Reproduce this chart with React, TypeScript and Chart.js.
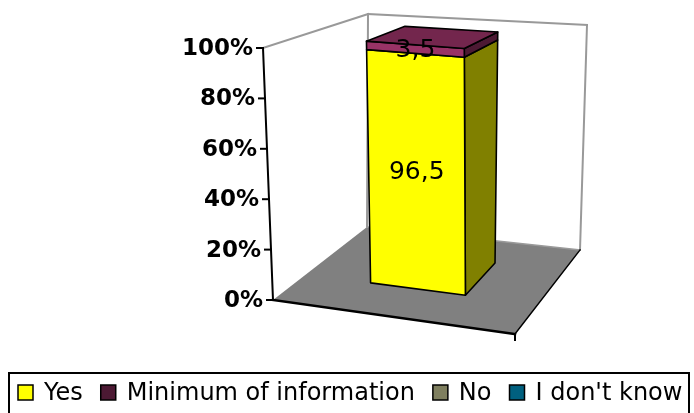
import React, { useEffect, useRef } from "react";
import { Chart, registerables } from "chart.js";

Chart.register(...registerables);

// ---- data ----
const categories = [""];
const seriesNames = ["Yes", "Minimum of information", "No", "I don't know"];
const yesValues = [96.5];
const minimumValues = [3.5];
const noValues = [0];
const dontKnowValues = [0];
const yTickValues = [0, 20, 40, 60, 80, 100];

// ---- colours ----
const legendColors = ["#FFFF00", "#4C1933", "#7F7F5F", "#00607F"];
const frontColors = ["#FFFF00", "#993366", "#A0A080", "#0080A0"];
const sideColors = ["#808000", "#4C1933", "#606048", "#004860"];
const topColors = ["#BFBF00", "#73264D", "#808060", "#006080"];

const seriesValues = [yesValues, minimumValues, noValues, dontKnowValues];

type P = [number, number];

const FLOOR_W = 242;

function makeProjection(ca: any) {
  const Hh = ca.bottom - ca.top;
  const FL: P = [ca.left, ca.bottom];
  const FR: P = [ca.left + FLOOR_W, ca.bottom + 34];
  const BL: P = [ca.left + 94, ca.bottom - 73];
  const BR: P = [ca.left + FLOOR_W + 65, ca.bottom - 50];
  const bil = (a: number, b: number, c: number, d: number, u: number, w: number) =>
    a * (1 - u) * (1 - w) + b * u * (1 - w) + c * (1 - u) * w + d * u * w;
  return (u: number, w: number, t: number): P => {
    const x = bil(FL[0], FR[0], BL[0], BR[0], u, w);
    const y = bil(FL[1], FR[1], BL[1], BR[1], u, w);
    const h = bil(1, 1.048, 0.845, 0.893, u, w) * Hh;
    const dx = bil(-10, -2, 1, 7, u, w);
    return [x + dx * t, y - h * t];
  };
}

function poly(ctx: CanvasRenderingContext2D, pts: P[], fill: string | null, stroke: string | null, lw: number) {
  ctx.beginPath();
  pts.forEach((p, i) => (i ? ctx.lineTo(p[0], p[1]) : ctx.moveTo(p[0], p[1])));
  ctx.closePath();
  if (fill) {
    ctx.fillStyle = fill;
    ctx.fill();
  }
  if (stroke) {
    ctx.strokeStyle = stroke;
    ctx.lineWidth = lw;
    ctx.lineJoin = "round";
    ctx.stroke();
  }
}

function line(ctx: CanvasRenderingContext2D, a: P, b: P, color: string, lw: number) {
  ctx.beginPath();
  ctx.moveTo(a[0], a[1]);
  ctx.lineTo(b[0], b[1]);
  ctx.strokeStyle = color;
  ctx.lineWidth = lw;
  ctx.lineCap = "square";
  ctx.stroke();
}

const BAR_W0 = 0.35;
const BAR_W1 = 0.75;

const threeD = {
  id: "threeD",
  beforeDatasetsDraw(chart: any) {
    const ctx: CanvasRenderingContext2D = chart.ctx;
    const ca = chart.chartArea;
    const Hh = ca.bottom - ca.top;
    const proj = makeProjection(ca);
    const yScale = chart.scales.y;
    const tOf = (py: number) => (ca.bottom - py) / Hh;
    ctx.save();

    // floor
    poly(ctx, [proj(0, 0, 0), proj(1, 0, 0), proj(1, 1, 0), proj(0, 1, 0)], "#808080", null, 0);
    // walls (outlines)
    const wall = "#999999";
    line(ctx, proj(0, 0, 1), proj(0, 1, 1), wall, 2);
    line(ctx, proj(0, 1, 1), proj(1, 1, 1), wall, 2);
    line(ctx, proj(0, 1, 0), proj(0, 1, 1), wall, 2);
    line(ctx, proj(1, 1, 0), proj(1, 1, 1), wall, 2);
    line(ctx, proj(0, 1, 0), proj(1, 1, 0), "#9a9a9a", 1.5);
    // floor edges
    line(ctx, proj(1, 0, 0), proj(1, 1, 0), "#000", 1.5);
    line(ctx, proj(0, 0, 0), proj(1, 0, 0), "#000", 2.5);
    const fr = proj(1, 0, 0);
    line(ctx, fr, [fr[0], fr[1] + 6], "#000", 2);
    // y axis
    line(ctx, proj(0, 0, 0), proj(0, 0, 1), "#000", 2);

    // tick marks + tick labels
    ctx.font = "bold 23px 'DejaVu Sans'";
    ctx.fillStyle = "#000";
    ctx.textAlign = "right";
    ctx.textBaseline = "middle";
    yScale.ticks.forEach((tk: any) => {
      const t = tOf(yScale.getPixelForValue(tk.value));
      const p = proj(0, 0, t);
      line(ctx, [p[0] - 6, p[1]], p, "#000", 2);
      ctx.fillText(String(tk.label), p[0] - 10, p[1] + 1);
    });

    // bars
    const nCat = categories.length;
    for (let j = 0; j < nCat; j++) {
      let topIdx = -1;
      const segs: any[] = [];
      chart.data.datasets.forEach((ds: any, i: number) => {
        const meta = chart.getDatasetMeta(i);
        const el = meta.data[j];
        if (!el || meta.hidden) return;
        const v = ds.data[j];
        const pr = el.getProps(["x", "y", "base", "width"], true);
        const u0 = (pr.x - pr.width / 2 - ca.left) / FLOOR_W;
        const u1 = (pr.x + pr.width / 2 - ca.left) / FLOOR_W;
        const t0 = tOf(pr.base);
        const t1 = tOf(pr.y);
        segs.push({ i, v, u0, u1, t0, t1 });
        if (v > 0) topIdx = segs.length - 1;
      });
      segs.forEach((s) => {
        if (!(s.v > 0)) return;
        poly(ctx, [proj(s.u1, BAR_W0, s.t0), proj(s.u1, BAR_W1, s.t0), proj(s.u1, BAR_W1, s.t1), proj(s.u1, BAR_W0, s.t1)], sideColors[s.i], "#000", 1.6);
        poly(ctx, [proj(s.u0, BAR_W0, s.t0), proj(s.u1, BAR_W0, s.t0), proj(s.u1, BAR_W0, s.t1), proj(s.u0, BAR_W0, s.t1)], frontColors[s.i], "#000", 1.6);
      });
      if (topIdx >= 0) {
        const s = segs[topIdx];
        poly(ctx, [proj(s.u0, BAR_W0, s.t1), proj(s.u1, BAR_W0, s.t1), proj(s.u1, BAR_W1, s.t1), proj(s.u0, BAR_W1, s.t1)], topColors[s.i], "#000", 1.6);
      }
      // labels
      ctx.font = "25px 'DejaVu Sans'";
      ctx.fillStyle = "#000";
      ctx.textAlign = "center";
      ctx.textBaseline = "middle";
      segs.forEach((s) => {
        if (!(s.v > 0)) return;
        const p = proj((s.u0 + s.u1) / 2, BAR_W0, (s.t0 + s.t1) / 2);
        ctx.fillText(String(s.v).replace(".", ","), p[0], p[1] + 1);
      });
    }
    ctx.restore();
    return false;
  },
  afterDraw(chart: any) {
    // legend (drawn in the framed box below the plot)
    const ctx: CanvasRenderingContext2D = chart.ctx;
    const ca = chart.chartArea;
    const boxTop = ca.bottom + 73;
    ctx.save();
    ctx.strokeStyle = "#000";
    ctx.lineWidth = 2;
    ctx.strokeRect(9, boxTop, 680, 60);
    ctx.font = "24px 'DejaVu Sans'";
    ctx.textAlign = "left";
    ctx.textBaseline = "middle";
    let x = 18;
    const keyTop = boxTop + 12;
    chart.data.datasets.forEach((ds: any) => {
      ctx.fillStyle = ds.backgroundColor;
      ctx.fillRect(x, keyTop, 15, 15);
      ctx.strokeStyle = "#000";
      ctx.lineWidth = 1.5;
      ctx.strokeRect(x, keyTop, 15, 15);
      ctx.fillStyle = "#000";
      const tx = x + 26;
      ctx.fillText(ds.label, tx, keyTop + 9);
      x = tx + ctx.measureText(ds.label).width + 18;
    });
    ctx.restore();
  },
};

export default function App() {
  const ref = useRef<HTMLCanvasElement | null>(null);
  useEffect(() => {
    if (!ref.current) return;
    const chart = new Chart(ref.current, {
      type: "bar",
      data: {
        labels: categories,
        datasets: seriesNames.map((name, i) => ({
          label: name,
          data: seriesValues[i],
          backgroundColor: legendColors[i],
          borderColor: "#000",
          borderWidth: 1.5,
          categoryPercentage: 1,
          barPercentage: 0.423,
        })),
      },
      options: {
        responsive: false,
        animation: false,
        layout: { padding: { top: 48, left: 0, right: 0, bottom: 0 } },
        plugins: {
          tooltip: { enabled: false },
          legend: { display: false },
        },
        scales: {
          x: {
            stacked: true,
            display: true,
            ticks: { display: false },
            grid: { display: false, drawTicks: false },
            border: { display: false },
            afterFit: (s: any) => {
              s.height = 113;
            },
          },
          y: {
            stacked: true,
            min: 0,
            max: 100,
            position: "left",
            afterBuildTicks: (s: any) => {
              s.ticks = yTickValues.map((v) => ({ value: v }));
            },
            ticks: { display: false, callback: (v: any) => v + "%" },
            grid: { display: false, drawTicks: false },
            border: { display: false },
            afterFit: (s: any) => {
              s.width = 273;
            },
          },
          yRight: {
            type: "linear",
            position: "right",
            display: true,
            ticks: { display: false },
            grid: { display: false, drawTicks: false },
            border: { display: false },
            afterFit: (s: any) => {
              s.width = 187;
            },
          },
        },
      },
      plugins: [threeD],
    } as any);
    return () => chart.destroy();
  }, []);
  return (
    <div style={{ position: "fixed", left: 0, top: 0, width: 694, height: 413, background: "#fff" }}>
      <canvas ref={ref} width={694} height={413} />
    </div>
  );
}
